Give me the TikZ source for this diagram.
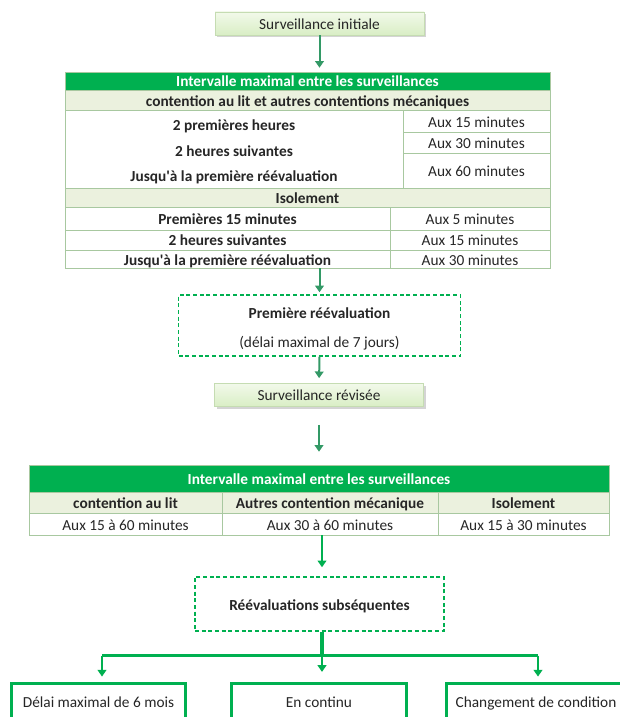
\documentclass[tikz,border=0pt]{standalone}
\usepackage{fontspec}
\setmainfont{Carlito}
\usetikzlibrary{arrows.meta,shadows,fit}
\definecolor{vert}{HTML}{00B050}
\definecolor{vertclair}{HTML}{EBF1DE}
\definecolor{fleche}{HTML}{339966}
\definecolor{bord}{HTML}{A8C8A0}
\definecolor{texte}{HTML}{262626}
\definecolor{sboxtop}{HTML}{F2F9EA}
\definecolor{sboxbot}{HTML}{D9EEC5}
\definecolor{sboxline}{HTML}{C5DCB2}
\begin{document}
\begin{tikzpicture}[x=0.75pt,y=-0.75pt,
  every node/.style={text=texte, font=\fontsize{11.5}{14}\selectfont, inner sep=0pt, text height=10pt, text depth=1.5pt},
  sbox/.style={draw=sboxline, line width=0.5pt, top color=sboxtop, bottom color=sboxbot,
     drop shadow={shadow xshift=1.5pt, shadow yshift=-1.5pt, fill=black!28, opacity=0.6},
     minimum width=209*0.75pt, minimum height=23*0.75pt},
  dbox/.style={draw=vert, dash pattern=on 3pt off 2pt, line width=1.1pt, fill=white},
  bbox/.style={draw=vert, line width=2.4pt, fill=white, minimum height=40*0.75pt},
  arr/.style={draw=fleche, line width=1.5pt, -{Triangle[width=6.5pt,length=5pt]}},
  conn/.style={draw=vert, line width=2pt},
  connarr/.style={draw=vert, line width=1.8pt, -{Triangle[width=6.5pt,length=5pt]}},
  grid/.style={draw=bord, line width=0.6pt},
  hdr/.style={text=white, font=\fontsize{11.5}{14}\selectfont\bfseries},
  bold/.style={font=\fontsize{11.5}{14}\selectfont\bfseries},
  tablebox/.style={inner sep=0pt, text height=, text depth=}
]
\useasboundingbox (0,0) rectangle (620,717);
\fill[white] (0,0) rectangle (620,717);
\clip (0,0) rectangle (620,717);

% Surveillance initiale
\node[sbox] (si) at (319.5,23.5) {Surveillance initiale};

% ---------- Table 1 ----------
\fill[vert] (65,72) rectangle (550,90);
\fill[vertclair] (65,90) rectangle (550,110);
\fill[vertclair] (65,188) rectangle (550,207);
\draw[grid] (65,90) -- (550,90);
\draw[grid] (65,110) -- (550,110);
\draw[grid] (403,132) -- (550,132);
\draw[grid] (403,153) -- (550,153);
\draw[grid] (403,110) -- (403,188);
\draw[grid] (65,188) -- (550,188);
\draw[grid] (65,207) -- (550,207);
\draw[grid] (65,230) -- (550,230);
\draw[grid] (65,250) -- (550,250);
\draw[grid] (390,207) -- (390,268);
\draw[grid] (65,72) rectangle (550,268);
\node[tablebox, fit={(65,72) (550,268)}] (t1) {};

\node[hdr] (t1h) at (307.5,81) {Intervalle maximal entre les surveillances};
\node[bold] (t1s) at (307.5,100.5) {contention au lit et autres contentions mécaniques};
\node[bold] (t1a) at (234,124.5) {2 premières heures};
\node[bold] (t1b) at (234,151) {2 heures suivantes};
\node[bold] (t1c) at (234,176) {Jusqu\textquotesingle à la première réévaluation};
\node (t1d) at (476.5,121.5) {Aux 15 minutes};
\node (t1e) at (476.5,142.5) {Aux 30 minutes};
\node (t1f) at (476.5,171) {Aux 60 minutes};
\node[bold] (t1i) at (307.5,198) {Isolement};
\node[bold] (t1j) at (227.5,219) {Premières 15 minutes};
\node[bold] (t1k) at (227.5,240) {2 heures suivantes};
\node[bold] (t1l) at (227.5,259.5) {Jusqu\textquotesingle à la première réévaluation};
\node (t1m) at (470,219) {Aux 5 minutes};
\node (t1n) at (470,240) {Aux 15 minutes};
\node (t1o) at (470,259.5) {Aux 30 minutes};

% Première réévaluation
\node[dbox, minimum width=282*0.75pt, minimum height=61*0.75pt] (pr) at (319.5,325.5) {};
\node[bold] (pr1) at (319.5,312.5) {Première réévaluation};
\node (pr2) at (319.5,341.5) {(délai maximal de 7 jours)};

% Surveillance révisée
\node[sbox] (sr) at (319,395) {Surveillance révisée};

% ---------- Table 2 ----------
\fill[vert] (29,465) rectangle (609,492);
\fill[vertclair] (29,492) rectangle (609,513);
\draw[grid] (29,492) -- (609,492);
\draw[grid] (29,513) -- (609,513);
\draw[grid] (222,492) -- (222,535);
\draw[grid] (438,492) -- (438,535);
\draw[grid] (29,465) rectangle (609,535);
\node[tablebox, fit={(29,465) (609,535)}] (t2) {};

\node[hdr] (t2h) at (319,478.5) {Intervalle maximal entre les surveillances};
\node[bold] (t2a) at (125.5,503) {contention au lit};
\node[bold] (t2b) at (330,503) {Autres contention mécanique};
\node[bold] (t2c) at (523.5,503) {Isolement};
\node (t2d) at (125.5,524.5) {Aux 15 à 60 minutes};
\node (t2e) at (330,524.5) {Aux 30 à 60 minutes};
\node (t2f) at (523.5,524.5) {Aux 15 à 30 minutes};

% Réévaluations subséquentes
\node[dbox, minimum width=249*0.75pt, minimum height=54*0.75pt] (rs) at (319.5,604) {};
\node[bold] (rs1) at (319.5,605) {Réévaluations subséquentes};

% Bottom boxes
\node[bbox, minimum width=174*0.75pt] (b1) at (98.5,703.5) {};
\node[bbox, minimum width=175*0.75pt] (b2) at (319,703.5) {};
\node[bbox, minimum width=183*0.75pt] (b3) at (538,703.5) {};
\node (b1t) at (98.5,702) {Délai maximal de 6 mois};
\node (b2t) at (319,702) {En continu};
\node (b3t) at (536,702) {Changement de condition};

% ---------- Connectors ----------
\draw[arr, shorten >=3pt] (si.south) -- (si.south |- t1.north);
\draw[arr, shorten >=1.5pt] (pr.north |- t1.south) -- (pr.north);
\draw[arr, shorten >=3.75pt] (pr.south) -- (sr.north);
\draw[arr, shorten <=13.5pt, shorten >=9.75pt] (sr.south) -- (sr.south |- t2.north);

\draw[connarr, shorten >=6.75pt] ([xshift=2.5*0.75pt]rs.north |- t2.south) -- ([xshift=2.5*0.75pt]rs.north);
\draw[conn, line width=2.6pt] ([xshift=2.5*0.75pt]rs.south) -- ++(0,24) coordinate (j);
\draw[conn] ([xshift=3.5*0.75pt]b1.north |- j) -- (b3.north |- j);
\draw[connarr, shorten >=4pt] ([xshift=3.5*0.75pt]b1.north |- j) -- ([xshift=3.5*0.75pt]b1.north);
\draw[connarr, shorten >=7.5pt] (j) -- (j |- b2.north);
\draw[connarr, shorten >=4pt] (b3.north |- j) -- (b3.north);
\end{tikzpicture}
\end{document}
